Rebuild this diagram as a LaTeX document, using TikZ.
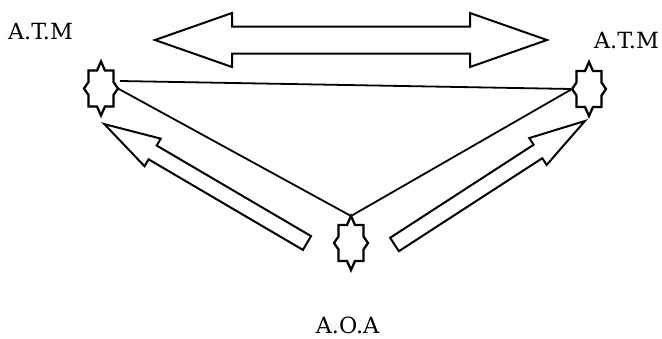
\documentclass[tikz,border=0pt]{standalone}
\usepackage{fontspec}
\setmainfont{DejaVu Serif}
\begin{document}
\begin{tikzpicture}[x=1pt,y=-1pt,
  lbl/.style={inner sep=0pt, font=\fontsize{22.3}{26}\selectfont},
  outline/.style={line width=2pt, line join=miter},
  link/.style={line width=1.8pt},
  % spiky station symbol with named anchors
  pics/atmstar/.style={code={
    \draw[line width=2.3pt, line join=miter, fill=white]
      (-12.5,-18) -- (-4,-18) -- (0,-27) -- (4,-18) -- (12.5,-18)
      -- (12.5,-6.5) -- (17,0) -- (12.5,6.5) -- (12.5,18)
      -- (4,18) -- (0,27) -- (-4,18) -- (-12.5,18)
      -- (-12.5,6.5) -- (-17,0) -- (-12.5,-6.5) -- cycle;
    \coordinate (-north) at (0,-27);
    \coordinate (-east) at (17,0);
    \coordinate (-west) at (-17,0);
    \coordinate (-feed) at (19,-7.5);
  }},
  % hollow single arrow of given length, pointing along local x
  pics/fatarrow/.style={code={
    \draw[outline]
      (0,-8) -- (#1-56,-8) -- (#1-56,-16) -- (#1,0)
      -- (#1-56,16) -- (#1-56,8) -- (0,8) -- cycle;
  }}]
\useasboundingbox (0,0) rectangle (662,338);

% station positions
\coordinate (pL) at (101,88.5);
\coordinate (pR) at (589,89);
\coordinate (pB) at (351,243);

% labels
\node[lbl] (tL) at (40.5,32) {A.T.M};
\node[lbl] (tR) at (626.5,40.5) {A.T.M};
\node[lbl] (tB) at (347.5,325.5) {A.O.A};

% hollow double arrow across the top
\draw[outline] (155,40) -- (232,13) -- (232,26.5) -- (470,26.5) -- (470,13)
  -- (547,40) -- (470,67) -- (470,53.5) -- (232,53.5) -- (232,67) -- cycle;

% hollow arrows rising from the bottom station
\pic[rotate=149.6] at (307,243) {fatarrow=235};
\pic[rotate=32.96] at (394.5,244.5) {fatarrow=227};

% stations
\pic (L) at (pL) {atmstar};
\pic (R) at (pR) {atmstar};
\pic (B) at (pB) {atmstar};

% connecting lines
\draw[link] (L-feed) -- (R-west);
\draw[link] (L-east) -- (B-north);
\draw[link] (R-west) -- (B-north);
\end{tikzpicture}
\end{document}
